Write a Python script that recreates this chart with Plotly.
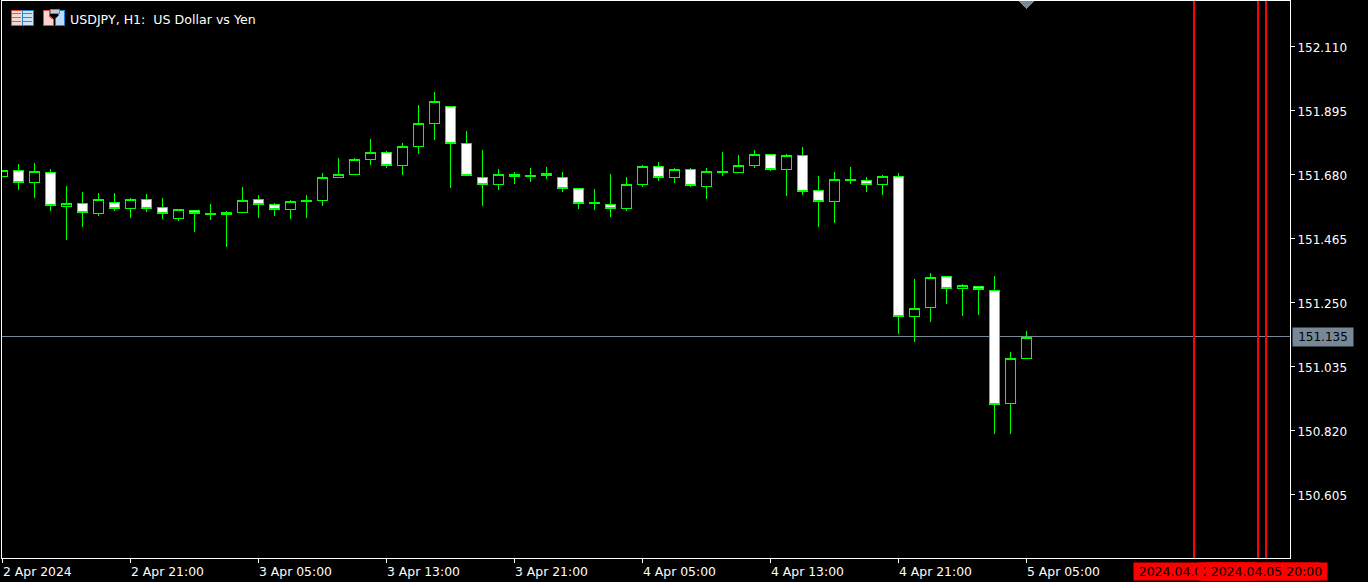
import plotly.graph_objects as go

# bar index -> hour bars, 2 Apr 2024 13:00 onwards
opens = [151.675,151.695,151.655,151.688,151.574,151.584,151.551,151.588,151.567,151.598,151.571,151.534,151.561,151.550,151.547,151.554,151.598,151.581,151.564,151.592,
         151.594,151.672,151.682,151.732,151.756,151.712,151.776,151.853,151.910,151.786,151.672,151.648,151.682,151.678,151.678,151.672,151.635,151.587,151.581,151.567,
         151.648,151.709,151.672,151.698,151.641,151.691,151.688,151.712,151.749,151.698,151.745,151.628,151.591,151.664,151.662,151.648,151.675,151.205,151.235,151.339,
         151.299,151.305,151.292,150.912,151.063]
highs = [151.695,151.717,151.720,151.700,151.643,151.623,151.620,151.620,151.603,151.616,151.603,151.564,151.561,151.583,151.559,151.640,151.613,151.586,151.596,151.613,
         151.687,151.737,151.737,151.801,151.761,151.787,151.915,151.959,151.910,151.828,151.764,151.700,151.690,151.703,151.707,151.690,151.635,151.633,151.683,151.673,
         151.714,151.724,151.703,151.703,151.703,151.757,151.747,151.764,151.749,151.751,151.774,151.677,151.690,151.707,151.673,151.680,151.687,151.331,151.351,151.339,
         151.314,151.305,151.341,151.085,151.156]
lows = [151.675,151.630,151.603,151.559,151.462,151.505,151.542,151.559,151.536,151.556,151.532,151.525,151.488,151.529,151.438,151.554,151.536,151.542,151.532,151.536,
        151.576,151.672,151.682,151.714,151.704,151.680,151.751,151.798,151.636,151.678,151.576,151.630,151.650,151.656,151.667,151.623,151.566,151.562,151.539,151.559,
        151.640,151.660,151.653,151.640,151.599,151.677,151.688,151.704,151.693,151.609,151.613,151.505,151.519,151.650,151.623,151.613,151.146,151.119,151.186,151.247,
        151.206,151.210,150.810,150.810,151.063]
closes = [151.695,151.655,151.692,151.578,151.584,151.554,151.598,151.567,151.598,151.567,151.551,151.564,151.551,151.548,151.554,151.594,151.581,151.564,151.591,151.594,
          151.672,151.682,151.732,151.756,151.712,151.776,151.853,151.927,151.786,151.678,151.648,151.682,151.675,151.676,151.685,151.635,151.584,151.585,151.567,151.648,
          151.709,151.672,151.698,151.645,151.692,151.689,151.712,151.749,151.698,151.745,151.625,151.591,151.665,151.662,151.648,151.675,151.205,151.231,151.336,151.299,
          151.309,151.295,150.909,151.063,151.135]
bar_index = list(range(len(opens)))

price_ticks = [152.110, 151.895, 151.680, 151.465, 151.250, 151.035, 150.820, 150.605]
price_labels = ["152.110", "151.895", "151.680", "151.465", "151.250", "151.035", "150.820", "150.605"]
time_ticks = [0, 8, 16, 24, 32, 40, 48, 56, 64]
time_labels = ["2 Apr 2024", "2 Apr 21:00", "3 Apr 05:00", "3 Apr 13:00", "3 Apr 21:00",
               "4 Apr 05:00", "4 Apr 13:00", "4 Apr 21:00", "5 Apr 05:00"]
last_price = 151.135
last_label = "151.135"
vline_bars = [74.5, 78.5, 79.0]
vline_labels = ["2024.04.05 12:00", "2024.04.05 18:00", "2024.04.05 20:00"]
title_text = "USDJPY, H1:\u00a0\u00a0US Dollar vs Yen"

W, H = 1368, 582
L, R, T, B = 2, 1290, 1, 558
FONT = "DejaVu Sans"
X_RANGE = [0, (R - L) / 16]
Y_RANGE = [150.3933, 152.2645]

def px(x): return (x - L) / (R - L)
def py(y): return (B - y) / (B - T)

fig = go.Figure(go.Candlestick(
    x=bar_index, open=opens, high=highs, low=lows, close=closes,
    whiskerwidth=0,
    increasing=dict(line=dict(color="#00ff00", width=1), fillcolor="#000000"),
    decreasing=dict(line=dict(color="#00ff00", width=1), fillcolor="#ffffff"),
    hoverinfo="skip", showlegend=False,
))

# small upward nudge so the crisp one-pixel line lands on the same pixel row as the reference
line_level = last_price + 0.0017
shapes = [dict(type="line", xref="paper", x0=0, x1=1, yref="y", y0=line_level, y1=line_level,
               line=dict(color="#778899", width=1), layer="below")]
for b in vline_bars:
    shapes.append(dict(type="line", xref="x", x0=b, x1=b, yref="paper", y0=0, y1=1,
                       line=dict(color="#ff0000", width=2)))

def rect(x0, y0, x1, y1, fill, line=None):
    shapes.append(dict(type="rect", xref="paper", yref="paper",
                       x0=px(x0), x1=px(x1), y0=py(y1), y1=py(y0), fillcolor=fill,
                       line=dict(color=line or fill, width=1 if line else 0)))

def poly(points, fill, line=None):
    d = " ".join(("M" if i == 0 else "L") + f" {px(x)} {py(y)}" for i, (x, y) in enumerate(points)) + " Z"
    shapes.append(dict(type="path", xref="paper", yref="paper", path=d, fillcolor=fill,
                       line=dict(color=line or fill, width=1 if line else 0)))

# header icons
rect(11, 10, 22, 25, "#f9d5cf", "#e2453a")
rect(22, 10, 33, 25, "#cfe4f7", "#1f7fc9")
for yy in (13, 17, 21):
    rect(12, yy, 21, yy + 1, "#e8584c")
    rect(23, yy, 32, yy + 1, "#2f8fd8")
poly([(43, 10), (49, 10), (49, 16), (53, 19), (53, 25), (43, 25)], "#fbd5cc", "#e2453a")
poly([(64, 10), (58, 10), (58, 16), (55, 19), (55, 25), (64, 25)], "#bcdcf5", "#1f7fc9")
rect(50, 9, 59, 13, "#c8c8c8", "#808080")
# chart-shift marker
poly([(1018, 1), (1034, 1), (1026, 9)], "#778899")

ann = [dict(xref="paper", yref="paper", x=px(68), y=py(19), text=title_text, showarrow=False,
            xanchor="left", yanchor="middle", font=dict(family=FONT, size=12.6, color="#ffffff"))]
for t, lab in zip(time_ticks, time_labels):
    ann.append(dict(xref="x", yref="paper", x=t, y=py(571), text=lab, showarrow=False,
                    xanchor="left", yanchor="middle", xshift=-1,
                    font=dict(family=FONT, size=12.4, color="#ffffff")))
ann.append(dict(xref="paper", yref="y", x=px(1292), y=last_price, text=last_label, showarrow=False,
                xanchor="left", yanchor="middle", width=60, height=18, bgcolor="#778899", borderpad=0,
                font=dict(family=FONT, size=12, color="#000000")))
for b, lab in zip(vline_bars, vline_labels):
    ann.append(dict(xref="x", yref="paper", x=b, y=py(571.5), text=lab, showarrow=False,
                    xanchor="center", yanchor="middle", width=121, height=17, bgcolor="#ff0000", borderpad=0,
                    font=dict(family=FONT, size=12.5, color="#000000")))

axis_style = dict(showline=True, mirror=True, linecolor="#ffffff", linewidth=1, showgrid=False,
                  zeroline=False, ticks="outside", ticklen=4, tickwidth=1, tickcolor="#ffffff")
fig.update_layout(
    width=W, height=H, margin=dict(l=L, r=W - R, t=T, b=H - B, autoexpand=False),
    paper_bgcolor="#000000", plot_bgcolor="#000000", showlegend=False, hovermode=False,
    boxgap=0.375, boxgroupgap=0,
    shapes=shapes, annotations=ann,
    font=dict(family=FONT, size=12, color="#ffffff"),
    xaxis=dict(range=X_RANGE, tickmode="array", tickvals=time_ticks, showticklabels=False,
               rangeslider=dict(visible=False), **axis_style),
    yaxis=dict(range=Y_RANGE, side="right", tickmode="array", tickvals=price_ticks, ticktext=price_labels,
               tickfont=dict(family=FONT, size=12, color="#ffffff"), **axis_style),
)
fig.write_html("out.html", config=dict(displayModeBar=False),
               post_script="document.body.style.margin='0';document.body.style.background='#000';"
                           "document.querySelectorAll('.boxes path, .shapelayer path').forEach(p=>p.style.shapeRendering='crispEdges');"
                           "document.querySelectorAll('.ytick text').forEach(t=>t.setAttribute('dy','1'));")
